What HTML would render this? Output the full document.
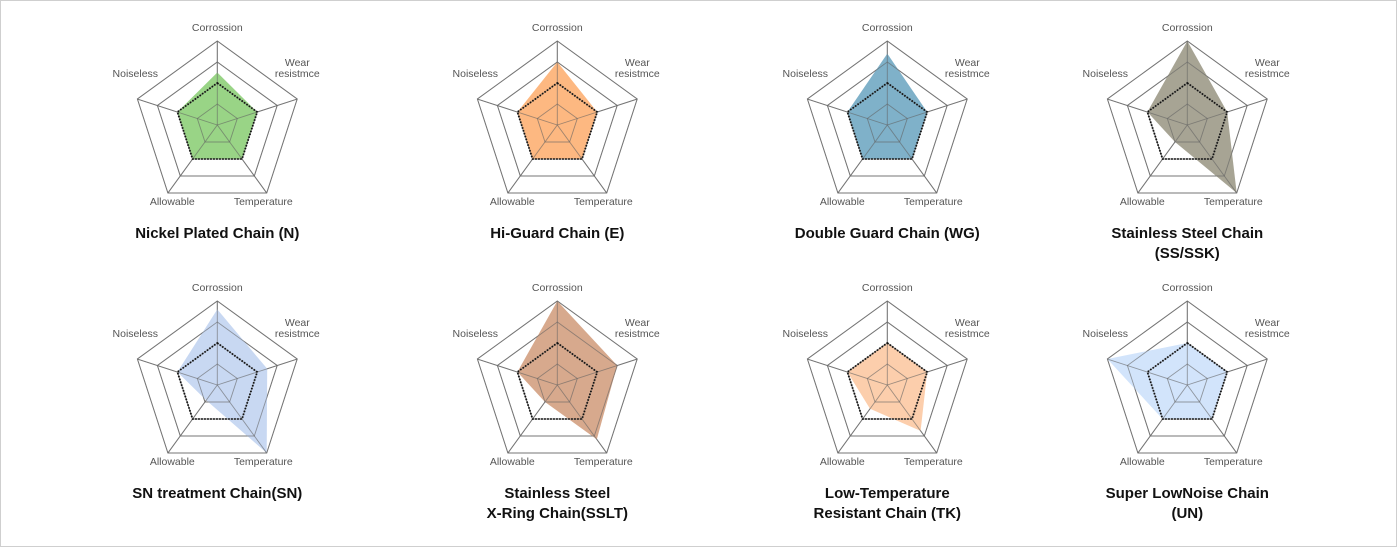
<!DOCTYPE html>
<html><head><meta charset="utf-8"><style>
html,body{margin:0;padding:0;background:#fff}
svg{display:block;font-family:"Liberation Sans",Arial,sans-serif}
</style></head><body>
<svg id="chart" width="1397" height="547" viewBox="0 0 1397 547">
<rect x="0.5" y="0.5" width="1396" height="546" fill="#fff" stroke="#cfcfcf"/>
</svg>
<script>
const axes = ["Corrossion","Wear resistmce","Temperature","Allowable","Noiseless"];
const baseline = [2,2,2,2,2];
const titles = [["Nickel Plated Chain (N)"],["Hi-Guard Chain (E)"],["Double Guard Chain (WG)"],["Stainless Steel Chain","(SS/SSK)"],["SN treatment Chain(SN)"],["Stainless Steel","X-Ring Chain(SSLT)"],["Low-Temperature","Resistant Chain (TK)"],["Super LowNoise Chain","(UN)"]];
const valuesN = [2.5,2,2,2,2];
const valuesE = [3,2,2,2,2];
const valuesWG = [3.4,2,2,2,2];
const valuesSS = [4,2,4,1,2];
const valuesSN = [3.6,2.5,4,0.9,2];
const valuesSSLT = [4,3,3.2,1,2];
const valuesTK = [2,2,2.7,1.4,2];
const valuesUN = [2,2,2,2,4];
const allValues = [valuesN,valuesE,valuesWG,valuesSS,valuesSN,valuesSSLT,valuesTK,valuesUN];
const colors = ["#93d27f","#fdb47a","#78adc6","#a29f8e","#c5d6f1","#d5a487","#fccba8","#d0e3fb"];
const maxV = 4, levels = 4;

const svg = document.getElementById('chart');
const NS = "http://www.w3.org/2000/svg";
const colX = [217.3,557.3,887.3,1187.3];
const rowY = [125,385];
const R = 84;
function mk(tag, attrs, parent){const e=document.createElementNS(NS,tag);for(const k in attrs)e.setAttribute(k,attrs[k]);(parent||svg).appendChild(e);return e;}
function pt(cx,cy,i,v){const a=-Math.PI/2+i*2*Math.PI/5;const r=v/maxV*R;return [cx+r*Math.cos(a),cy+r*Math.sin(a)];}
function poly(cx,cy,vals){return vals.map((v,i)=>pt(cx,cy,i,v).map(n=>n.toFixed(1)).join(',')).join(' ');}

allValues.forEach((vals,k)=>{
  const cx=colX[k%4], cy=rowY[Math.floor(k/4)];
  const g=mk('g',{});
  
  
  for(let l=1;l<=levels;l++){
    const ring=mk('polygon',{points:poly(cx,cy,[l,l,l,l,l]),fill:'none',stroke:'#8a8a8a','stroke-width':1},g);
    
    
  }
  for(let i=0;i<5;i++){
    const p=pt(cx,cy,i,maxV);
    const s=mk('line',{x1:cx,y1:cy,x2:p[0],y2:p[1],stroke:'#8a8a8a','stroke-width':1},g);
    
    
  }
  const area=mk('polygon',{points:poly(cx,cy,vals),fill:colors[k],'fill-opacity':0.95,stroke:'none'},g);
  
  
  for(let l=1;l<=levels;l++){
    const ring=mk('polygon',{points:poly(cx,cy,[l,l,l,l,l]),fill:'none',stroke:'#666','stroke-width':0.9,'stroke-opacity':0.6},g);
    
    
  }
  for(let i=0;i<5;i++){
    const p=pt(cx,cy,i,maxV);
    const s=mk('line',{x1:cx,y1:cy,x2:p[0],y2:p[1],stroke:'#666','stroke-width':0.9,'stroke-opacity':0.6},g);
    
    
  }
  const base=mk('polygon',{points:poly(cx,cy,baseline),fill:'none',stroke:'#111','stroke-width':1.8,'stroke-dasharray':'1.5,1.5'},g);
  
  
  const lab=[[cx,cy-94,[axes[0]]],[cx+80,cy-59,["Wear","resistmce"]],[cx+46,cy+80,[axes[2]]],[cx-45,cy+80,[axes[3]]],[cx-82,cy-48,[axes[4]]]];
  lab.forEach((L,i)=>{
    const t=mk('text',{x:L[0],y:L[1],'text-anchor':'middle','font-size':10.5,fill:'#555'},g);
    
    
    L[2].forEach((s,j)=>{const ts=mk('tspan',{x:L[0],dy:j?11:0},t);ts.textContent=s;});
  });
  const tl=titles[k];
  tl.forEach((s,j)=>{
    const t=mk('text',{x:cx,y:cy+113+j*20,'text-anchor':'middle','font-size':15,'font-weight':'bold',fill:'#111'},g);
    
    
    t.textContent=s;
  });
});
</script>
</body></html>
